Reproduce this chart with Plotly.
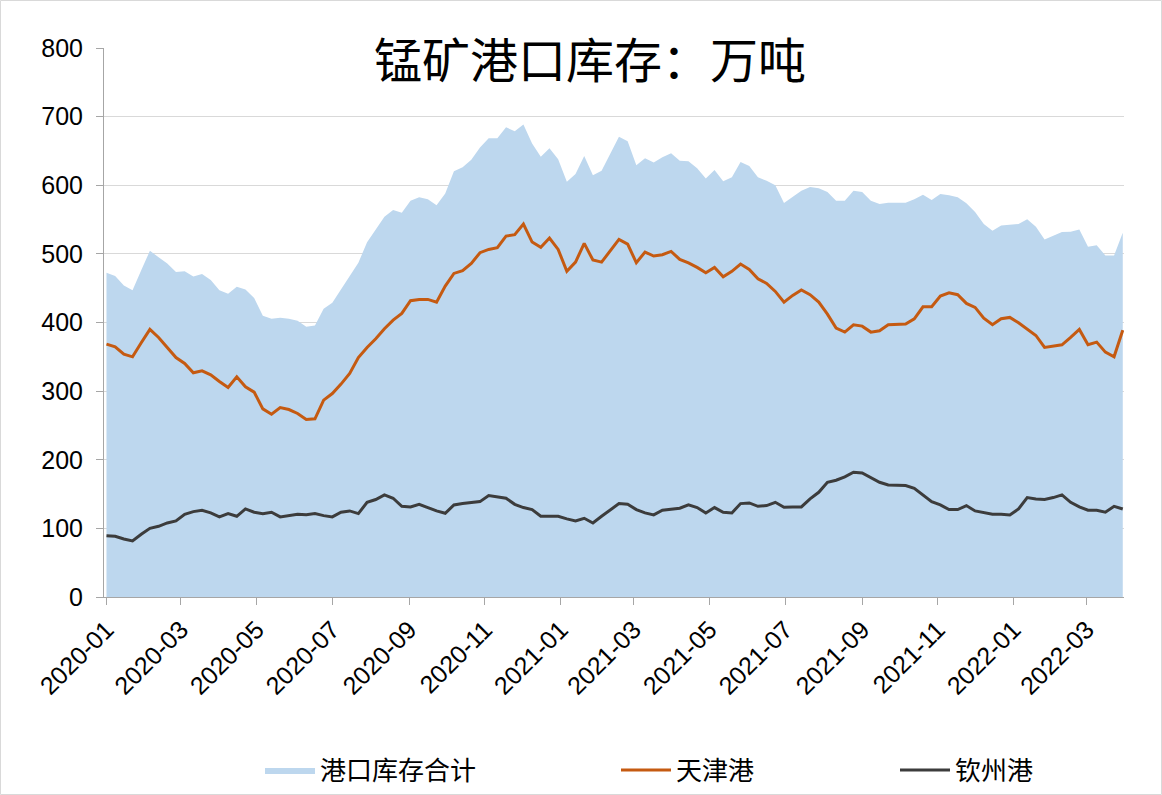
import pandas as pd
import plotly.graph_objects as go

start_date = "2020-01-03"
n_weeks = 118
dates = pd.date_range(start_date, periods=n_weeks, freq="7D")

total_stock = [
    472.5, 467.6, 454, 447, 476, 504.6, 495, 486, 473.5, 474.5,
    467, 470.6, 462, 447, 442, 452, 448, 435.6, 410, 405.4,
    407, 405.4, 402.5, 393.8, 395.7, 420, 428.8, 448, 467.6, 487,
    517, 534.7, 554, 564, 560, 577.5, 582.4, 579.5, 570.7, 588,
    620.5, 626.4, 637, 655, 668.4, 668.4, 684.5, 678.6, 688.4, 661,
    641.7, 653.8, 637.8, 605, 616.4, 642.6, 614.5, 621.3, 646.5, 670.8,
    664, 629, 639.3, 633, 640.7, 646.5, 635.8, 635, 624.7, 610,
    622.3, 605.7, 611.5, 634, 628, 611.5, 606.7, 600, 574, 583,
    592, 597.6, 595.7, 590, 577.5, 577.5, 592, 590, 577.5, 572.6,
    574.5, 574.5, 574.5, 579.5, 586.3, 578.5, 587.3, 585.3, 582.4, 573.6,
    561, 543.5, 533.8, 541.5, 542.5, 543.5, 550.3, 539.6, 521, 527,
    531.8, 532.3, 535.7, 510.4, 512.4, 497.8, 497.8, 530.8,
]

tianjin = [
    368.5, 364.6, 353.9, 350, 370.4, 389.9, 378.2, 363.6, 349, 340.3,
    326.7, 329.6, 323.8, 314, 305.3, 320.8, 306.3, 298.5, 274.2, 266.4,
    276.1, 273.2, 267.4, 258.6, 259.6, 286.8, 296.5, 310.2, 325.7, 349,
    363.6, 376.3, 390.8, 403.5, 413.2, 431.7, 433.6, 433.6, 429.7, 453,
    471.5, 475.4, 486, 501.7, 506.5, 509, 526, 528, 543.5, 517.2,
    509.5, 523, 506.5, 474.5, 488, 515.3, 491, 488, 504.6, 521,
    514.3, 487, 502.7, 496.8, 498.8, 503.6, 492, 487, 480.3, 472.5,
    480.3, 466.7, 474.5, 485.2, 477.4, 463.8, 457, 445.3, 429.5, 439.5,
    447.3, 440.5, 429.7, 412.2, 391.8, 386, 396.7, 394.7, 386, 388,
    396.7, 397.7, 397.7, 405.4, 422.9, 422.9, 438.5, 443.3, 440.5, 427.8,
    422, 406.4, 396.7, 405.4, 407.4, 399.6, 389.9, 381.1, 363.6, 365.6,
    367.5, 378.2, 389.9, 367.5, 371.4, 356.8, 350, 388.9,
]

qinzhou = [
    89.4, 88.5, 84.6, 81.7, 91.4, 100.1, 103, 107.9, 110.8, 120.6,
    124.4, 126.4, 122.5, 116.7, 121.5, 117.6, 128.3, 123.5, 121.5, 123.5,
    116.7, 118.6, 120.6, 120, 121.5, 118.6, 116.7, 123.5, 125.4, 121.5,
    138, 142, 148.8, 143.9, 132.2, 131.3, 135.1, 130.3, 125.4, 122,
    134.2, 136.1, 137.1, 139, 147.8, 145.8, 143.9, 135.1, 130.3, 127.4,
    117.6, 117.6, 117.6, 113.8, 110.8, 114.7, 107.9, 117.6, 127.4, 136.1,
    135.1, 127.4, 122.5, 119.6, 126.4, 128.3, 129.3, 134.2, 130.3, 122.5,
    130.3, 123.5, 122.5, 136.1, 137.1, 132.2, 133.2, 138, 130.8, 131.3,
    131.3, 142.9, 152.6, 167.2, 170.1, 175, 181.8, 180.8, 174, 167.2,
    163.3, 162.4, 162.4, 158.5, 148.8, 139, 134.2, 127.4, 127.4, 133.2,
    125.4, 122.5, 120.6, 120.6, 119.6, 128.3, 144.9, 142.9, 142, 144.9,
    148.8, 138, 131.3, 126.4, 126.4, 123.5, 132.2, 128.3,
]

series_names = ["港口库存合计", "天津港", "钦州港"]
title_text = "锰矿港口库存：万吨"
y_ticks = [0, 100, 200, 300, 400, 500, 600, 700, 800]

W, H = 1162, 795
L, R, T, B = 104, 38, 48, 198
pw = W - L - R
ph = H - T - B

def px_x(p):
    return (p - L) / pw

def px_y(p):
    return (H - B - p) / ph

fig = go.Figure()
fig.add_trace(go.Scatter(
    x=dates, y=total_stock, name=series_names[0], mode="lines",
    fill="tozeroy", fillcolor="#BDD7EE", line=dict(width=0, color="#BDD7EE"),
    legend="legend", hoverinfo="skip",
))
fig.add_trace(go.Scatter(
    x=dates, y=tianjin, name=series_names[1], mode="lines",
    line=dict(width=3, color="#C55A11"), legend="legend2",
))
fig.add_trace(go.Scatter(
    x=dates, y=qinzhou, name=series_names[2], mode="lines",
    line=dict(width=3, color="#3C3C3C"), legend="legend3",
))

tick_font = dict(family="Liberation Sans, Arial, sans-serif", size=25, color="#000000")
legend_font = dict(family="Noto Sans CJK SC", size=26, color="#000000")
leg_y = px_y(770)

def leg(xpix):
    return dict(x=px_x(xpix), y=leg_y, xanchor="left", yanchor="middle",
                orientation="h", font=legend_font, bgcolor="rgba(0,0,0,0)",
                itemwidth=50)

fig.update_layout(
    width=W, height=H,
    margin=dict(l=L, r=R, t=T, b=B, autoexpand=False),
    paper_bgcolor="white", plot_bgcolor="white",
    showlegend=True,
    legend=leg(260),
    legend2=leg(616),
    legend3=leg(895),
    xaxis=dict(
        type="date", range=["2020-01-01", "2022-04-02"],
        tick0=start_date, dtick="M2", tickformat="%Y-%m", tickangle=-45,
        ticks="outside", ticklen=7, tickcolor="#A6A6A6", tickwidth=1,
        showline=True, linecolor="#A6A6A6", linewidth=1,
        showgrid=False, zeroline=False, tickfont=tick_font,
    ),
    yaxis=dict(
        range=[0, 800], tickvals=y_ticks, ticks="outside", ticklen=7,
        tickcolor="#A6A6A6", showline=True, linecolor="#A6A6A6", linewidth=1,
        showgrid=True, gridcolor="#D9D9D9", gridwidth=1, zeroline=False,
        tickfont=tick_font, ticklabelstandoff=8,
    ),
    annotations=[dict(
        text=title_text, x=px_x(590), y=px_y(57), xref="paper", yref="paper",
        xanchor="center", yanchor="middle", showarrow=False,
        font=dict(family="Noto Sans CJK SC", size=48, color="#000000"),
    )],
    shapes=[dict(
        type="rect", xref="paper", yref="paper",
        x0=px_x(0.5), x1=px_x(W - 0.5), y0=px_y(H - 0.5), y1=px_y(0.5),
        line=dict(color="#D9D9D9", width=1), layer="below",
    )],
)

fig.write_html("out.html", config={"displayModeBar": False},
               post_script="document.body.style.margin='0';")
